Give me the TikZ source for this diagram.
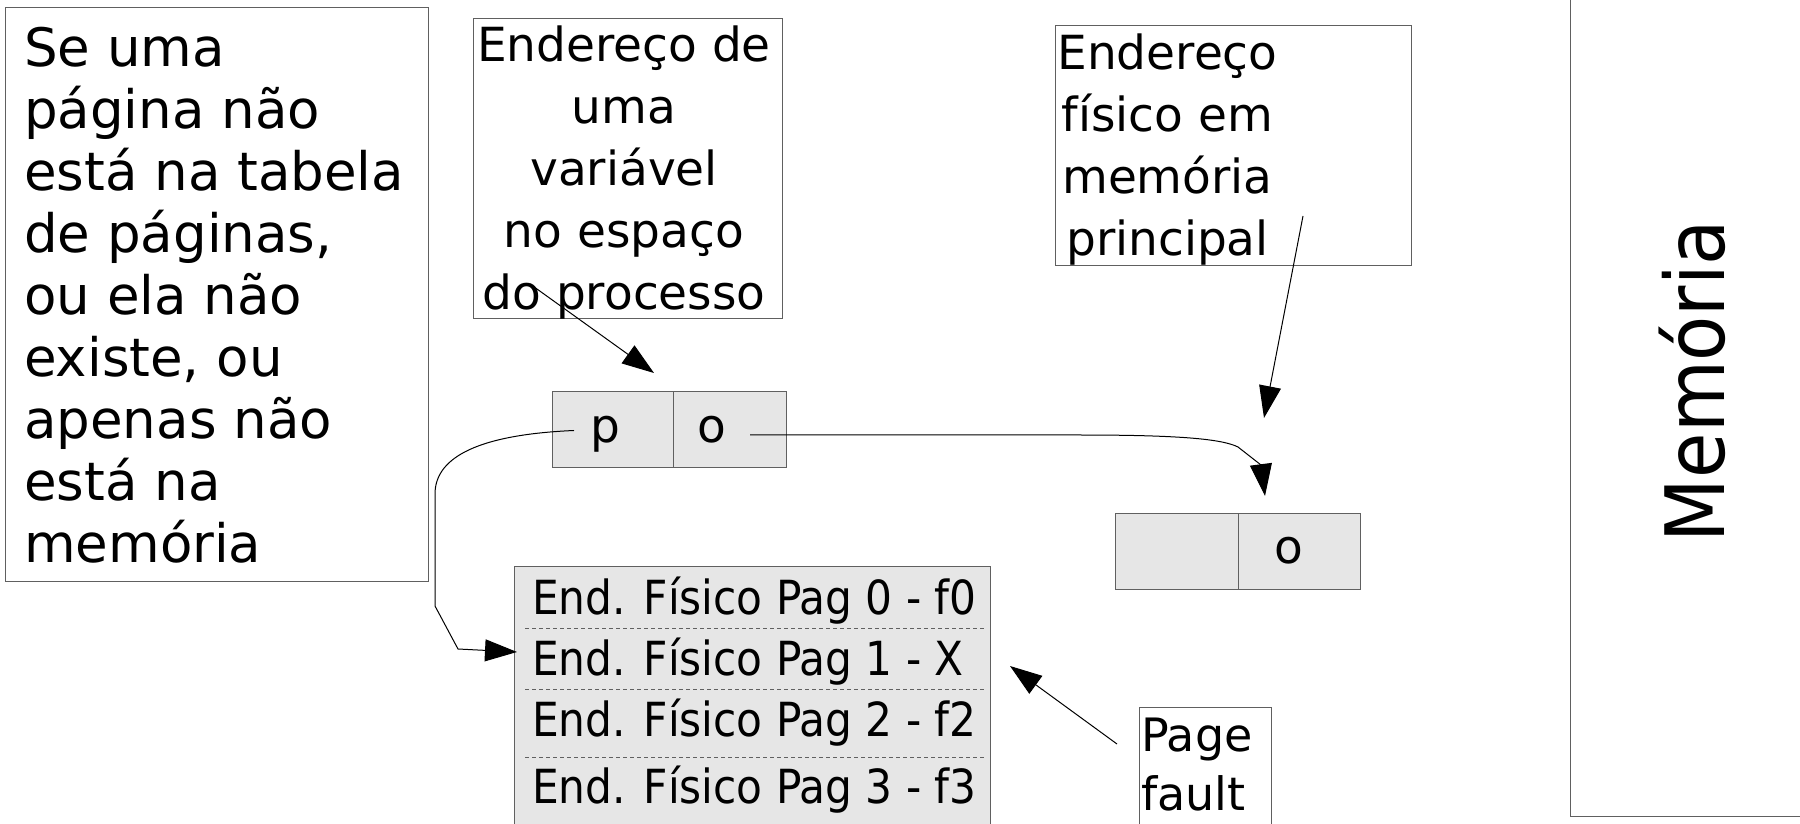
\documentclass[tikz,border=0pt]{standalone}
\usepackage{fontspec}
\setmainfont{DejaVu Sans}
\newfontfamily\condfont{DejaVu Sans Condensed}
\usetikzlibrary{arrows.meta}
\definecolor{boxgray}{HTML}{606060}
\definecolor{cellgray}{HTML}{E6E6E6}
\begin{document}
\begin{tikzpicture}[x=1pt,y=1pt,
  box/.style={draw=boxgray, line width=1.3pt, inner sep=0, anchor=north west},
  cell/.style={draw=boxgray, fill=cellgray, line width=1.3pt, minimum height=76pt, inner sep=0, anchor=north west},
  conn/.style={draw=black, line width=1pt},
  tip/.style={-{Triangle[length=32pt,width=22pt]}},
  bigtext/.style={font=\fontsize{53}{62}\selectfont, inner sep=0},
  midtext/.style={font=\fontsize{47}{62}\selectfont, inner sep=0},
  tabtext/.style={font=\condfont\fontsize{47}{56}\selectfont, inner sep=0, anchor=base west},
  sep/.style={draw=boxgray, line width=1pt, dash pattern=on 4pt off 3pt},
]
\useasboundingbox (0,0) rectangle (1800,823);
\fill[white] (0,0) rectangle (1800,823);
\begin{scope}
\clip (0,0) rectangle (1800,823);

% left explanation box
\node[box, minimum width=423.4pt, minimum height=574pt] (leftbox) at (4.6,816.1) {};
\node[bigtext, align=left, anchor=west] (lefttext) at (24,528) {Se uma\\página não\\está na tabela\\de páginas,\\ou ela não\\existe, ou\\apenas não\\está na\\memória};

% virtual address box
\node[box, minimum width=309pt, minimum height=300pt] (varbox) at (473,805) {};
\node[midtext, align=center] (vartext) at (624,650) {Endereço de\\uma\\variável\\no espaço\\do processo};

% physical address box
\node[box, minimum width=356pt, minimum height=240pt] (physbox) at (1055,798) {};
\node[midtext, align=center] (phystext) at (1167.5,673) {Endereço\\físico em\\memória\\principal};

% p | o
\node[cell, minimum width=121pt] (pcell) at (552,432) {};
\node[cell, minimum width=113pt] (ocell) at (673,432) {};
\node[midtext, anchor=base] (ptxt) at (605,380) {p};
\node[midtext, anchor=base] (otxt) at (712,380) {o};

% frame | o
\node[cell, minimum width=123pt] (fcell) at (1115,310) {};
\node[cell, minimum width=122pt] (o2cell) at (1238,310) {};
\node[midtext, anchor=base] (o2txt) at (1289,259) {o};

% page table
\node[cell, minimum width=476pt, minimum height=275pt] (table) at (514,257) {};
\draw[sep] (525,195) -- (984,195);
\draw[sep] (525,134) -- (984,134);
\draw[sep] (525,66) -- (984,66);
\node[tabtext] (r0) at (532,209) {End. Físico Pag 0 - f0};
\node[tabtext] (r1) at (532,148) {End. Físico Pag 1 - X};
\node[tabtext] (r2) at (532,87) {End. Físico Pag 2 - f2};
\node[tabtext] (r3) at (532,20) {End. Físico Pag 3 - f3};

% page fault
\node[box, minimum width=132pt, minimum height=130pt] (pfbox) at (1139,116) {};
\node[font=\fontsize{46}{59}\selectfont, inner sep=0, align=left, anchor=west] (pftext) at (1141,58.3) {Page\\fault};

% memory
\node[box, minimum width=240pt, minimum height=830pt, anchor=south west] (membox) at (1570,6) {};
\node[font=\condfont\fontsize{82}{90}\selectfont, rotate=90, inner sep=0] (memtext) at (1692,442) {Memória};

% connectors
\coordinate (a1s) at (530,539);
\coordinate (a1e) at (654,450);
\draw[conn, tip] (a1s) -- (a1e);

\coordinate (a2s) at (1303,607);
\coordinate (a2e) at (1264,405);
\draw[conn, tip] (a2s) -- (a2e);

\coordinate (a3s) at (1117,79);
\coordinate (a3e) at (1010,157);
\draw[conn, tip] (a3s) -- (a3e);

\coordinate (pstart) at (574,392.5);
\coordinate (pend) at (517,171);
\draw[conn, tip] (pstart) .. controls (470,388) and (435,362) .. (435,329) -- (435,217) -- (458,174) -- (pend);

\coordinate (ostart) at (750,388);
\coordinate (oend) at (1265,327);
\draw[conn, tip] (ostart) -- (1079,388) .. controls (1180,388) and (1222,384) .. (1238,376) -- (1261,358) -- (oend);
\end{scope}
\end{tikzpicture}
\end{document}
